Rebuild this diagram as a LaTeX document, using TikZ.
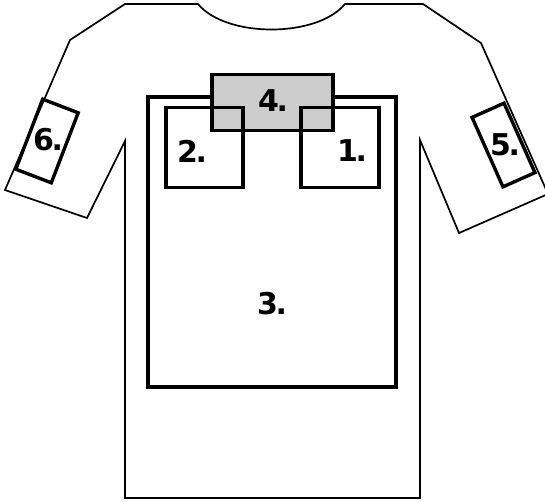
\documentclass[tikz,border=0pt]{standalone}
\usepackage{fontspec}
\setmainfont{DejaVu Sans}
\newcommand{\lab}[1]{#1\kern-2.5pt.}
\begin{document}
\begin{tikzpicture}[x=1pt,y=-1pt,
  outline/.style={draw=black,line width=1.7pt,line join=miter},
  zone/.style={draw=black,line width=3.4pt,rectangle,inner sep=0pt,outer sep=0pt},
  lbl/.style={font=\fontsize{30}{30}\selectfont\bfseries,inner sep=0pt}]
\useasboundingbox (0,0) rectangle (545,501);
\begin{scope}
\clip (0,0) rectangle (545,501);
% shirt outline
\draw[outline] (125,4) -- (198,4) .. controls (226,38) and (317,38) .. (345,4)
  -- (423,4) -- (481,43) -- (548,194) -- (459,233) -- (420,140) -- (420,498)
  -- (125,498) -- (125,141) -- (87,218) -- (5,190) -- (70,40) -- cycle;
\end{scope}
% zones
\node[zone,minimum width=248pt,minimum height=290pt] (z3) at (272,242) {};
\node[zone,fill={rgb,255:red,204;green,204;blue,204},minimum width=121pt,minimum height=56pt] (z4) at (272.5,102.5) {};
\node[zone,minimum width=77pt,minimum height=80pt] (z2) at (204.5,147.5) {};
\node[zone,minimum width=78pt,minimum height=80pt] (z1) at (340,147.5) {};
\node[zone,minimum width=38pt,minimum height=75pt,rotate=-21] (z6) at (47,141) {};
\node[zone,minimum width=35pt,minimum height=76pt,rotate=24] (z5) at (503.5,145) {};
% labels
\node[lbl] (l1) at (352,151) {\lab{1}};
\node[lbl] (l2) at (192,151) {\lab{2}};
\node[lbl] (l3) at (272,304) {\lab{3}};
\node[lbl] (l4) at (273,101) {\lab{4}};
\node[lbl] (l5) at (505,145) {\lab{5}};
\node[lbl] (l6) at (48,140) {\lab{6}};
\end{tikzpicture}
\end{document}
